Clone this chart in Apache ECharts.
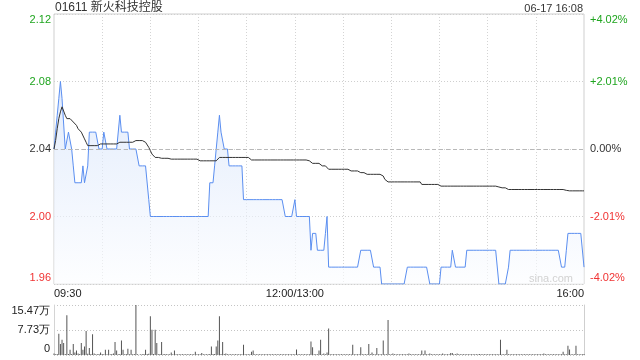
<!DOCTYPE html>
<html><head><meta charset="utf-8">
<script src="https://cdn.jsdelivr.net/npm/echarts@6/dist/echarts.min.js"></script>
<style>html,body{margin:0;padding:0;background:#fff}#c{width:640px;height:360px}</style>
</head><body><div id="c"></div>
<script>
const titleText = '01611 新火科技控股';
const dateText = '06-17 16:08';
const watermark = 'sina.com';
const priceTicks = ['1.96', '2.00', '2.04', '2.08', '2.12'];
const pctTicks = ['-4.02%', '-2.01%', '0.00%', '+2.01%', '+4.02%'];
const volTicks = ['0', '7.73万', '15.47万'];
const xTickLabels = { 0: '09:30', 150: '12:00/13:00', 330: '16:00' };
const prevClose = 2.04;

// price per minute (0 = 09:30, 150 = 12:00/13:00, 330 = 16:00)
const priceData = [
  2.04,2.05,2.06,2.07,2.08,2.07,2.07,2.04,2.04,2.05,
  2.05,2.04,2.03,2.02,2.02,2.02,2.02,2.02,2.03,2.02,
  2.02,2.03,2.05,2.05,2.05,2.05,2.05,2.05,2.04,2.04,
  2.04,2.05,2.05,2.04,2.04,2.04,2.04,2.04,2.04,2.04,
  2.04,2.06,2.05,2.05,2.05,2.05,2.05,2.04,2.04,2.04,
  2.04,2.04,2.04,2.03,2.03,2.03,2.03,2.03,2.03,2.01,
  2.00,2.00,2.00,2.00,2.00,2.00,2.00,2.00,2.00,2.00,
  2.00,2.00,2.00,2.00,2.00,2.00,2.00,2.00,2.00,2.00,
  2.00,2.00,2.00,2.00,2.00,2.00,2.00,2.00,2.00,2.00,
  2.00,2.00,2.00,2.00,2.00,2.00,2.00,2.02,2.02,2.02,
  2.03,2.04,2.05,2.06,2.05,2.05,2.04,2.04,2.04,2.03,
  2.03,2.03,2.03,2.03,2.03,2.03,2.03,2.03,2.01,2.01,
  2.01,2.01,2.01,2.01,2.01,2.01,2.01,2.01,2.01,2.01,
  2.01,2.01,2.01,2.01,2.01,2.01,2.01,2.01,2.01,2.01,
  2.01,2.01,2.01,2.01,2.00,2.00,2.00,2.00,2.00,2.00,
  2.01,2.00,2.00,2.00,2.00,2.00,2.00,2.00,2.00,2.00,
  1.98,1.99,1.99,1.99,1.98,1.98,1.98,1.98,1.98,1.99,
  2.00,1.97,1.97,1.97,1.97,1.97,1.97,1.97,1.97,1.97,
  1.97,1.97,1.97,1.97,1.97,1.97,1.97,1.97,1.97,1.97,
  1.97,1.98,1.98,1.98,1.98,1.98,1.98,1.98,1.98,1.97,
  1.97,1.97,1.97,1.97,1.96,1.96,1.96,1.96,1.96,1.96,
  1.96,1.96,1.96,1.96,1.96,1.96,1.96,1.96,1.96,1.96,
  1.97,1.97,1.97,1.97,1.97,1.97,1.97,1.97,1.97,1.97,
  1.97,1.97,1.97,1.97,1.96,1.96,1.96,1.96,1.96,1.96,
  1.96,1.97,1.97,1.97,1.97,1.97,1.97,1.97,1.98,1.98,
  1.97,1.97,1.97,1.97,1.97,1.97,1.97,1.98,1.98,1.98,
  1.98,1.98,1.98,1.98,1.98,1.98,1.98,1.98,1.98,1.98,
  1.98,1.98,1.98,1.98,1.98,1.98,1.98,1.96,1.96,1.96,
  1.96,1.96,1.96,1.97,1.98,1.98,1.98,1.98,1.98,1.98,
  1.98,1.98,1.98,1.98,1.98,1.98,1.98,1.98,1.98,1.98,
  1.98,1.98,1.98,1.98,1.98,1.98,1.98,1.98,1.98,1.98,
  1.98,1.98,1.98,1.98,1.98,1.98,1.97,1.97,1.97,1.98,
  1.99,1.99,1.99,1.99,1.99,1.99,1.99,1.99,1.99,1.99,
  1.97
];

// average price per minute
const avgData = [
  2.040,2.045,2.052,2.058,2.062,2.065,2.065,2.060,2.058,2.058,
  2.058,2.057,2.056,2.055,2.054,2.052,2.051,2.050,2.049,2.046,
  2.044,2.042,2.042,2.042,2.042,2.042,2.042,2.042,2.042,2.043,
  2.043,2.043,2.043,2.043,2.043,2.043,2.043,2.043,2.043,2.043,
  2.043,2.044,2.044,2.044,2.044,2.044,2.044,2.044,2.044,2.044,
  2.045,2.045,2.045,2.045,2.045,2.045,2.045,2.044,2.043,2.041,
  2.039,2.037,2.036,2.035,2.035,2.035,2.0345,2.0345,2.0345,2.0345,
  2.0345,2.0345,2.0345,2.034,2.034,2.034,2.034,2.034,2.034,2.034,
  2.034,2.034,2.034,2.034,2.034,2.034,2.034,2.034,2.034,2.034,
  2.034,2.033,2.033,2.033,2.033,2.033,2.033,2.033,2.033,2.033,
  2.033,2.033,2.034,2.035,2.035,2.035,2.035,2.035,2.035,2.035,
  2.035,2.035,2.035,2.035,2.035,2.035,2.035,2.035,2.035,2.035,
  2.035,2.035,2.035,2.0335,2.0335,2.0335,2.0335,2.0335,2.0335,2.0335,
  2.0335,2.0335,2.0335,2.0335,2.0335,2.0335,2.0335,2.0335,2.0335,2.0335,
  2.0335,2.0335,2.0335,2.0335,2.0335,2.0335,2.0335,2.0335,2.0335,2.0335,
  2.0335,2.0335,2.0335,2.0335,2.0335,2.0335,2.0335,2.0335,2.0335,2.033,
  2.033,2.0315,2.0315,2.0315,2.0315,2.0315,2.0315,2.030,2.030,2.030,
  2.030,2.028,2.028,2.028,2.028,2.028,2.028,2.028,2.028,2.028,
  2.028,2.028,2.028,2.028,2.027,2.027,2.027,2.027,2.027,2.027,
  2.027,2.026,2.026,2.026,2.026,2.025,2.025,2.025,2.025,2.025,
  2.025,2.025,2.025,2.025,2.025,2.024,2.022,2.021,2.0205,2.0205,
  2.0205,2.0205,2.0205,2.0205,2.0205,2.0205,2.0205,2.0205,2.0205,2.0205,
  2.0205,2.0205,2.0205,2.0205,2.0205,2.0205,2.0205,2.0205,2.0205,2.019,
  2.019,2.019,2.019,2.019,2.019,2.019,2.019,2.019,2.019,2.019,
  2.019,2.018,2.018,2.018,2.018,2.018,2.018,2.018,2.018,2.018,
  2.018,2.018,2.018,2.018,2.018,2.018,2.018,2.018,2.018,2.018,
  2.018,2.018,2.018,2.018,2.018,2.018,2.018,2.018,2.018,2.018,
  2.018,2.018,2.018,2.018,2.018,2.018,2.0175,2.0175,2.0175,2.017,
  2.017,2.017,2.016,2.016,2.016,2.016,2.016,2.016,2.016,2.016,
  2.016,2.016,2.016,2.016,2.016,2.016,2.016,2.016,2.016,2.016,
  2.016,2.016,2.016,2.016,2.016,2.016,2.016,2.016,2.016,2.016,
  2.016,2.016,2.016,2.016,2.016,2.016,2.016,2.016,2.016,2.0155,
  2.0152,2.0152,2.0152,2.0152,2.0152,2.0152,2.0152,2.0152,2.0152,2.0152,
  2.0152
];

// volume per minute, in 万
const volData = [
  0.5,0.2,0.3,6.6,3.4,4.7,3.7,0.3,12.3,0.3,
  1.6,0.3,3.4,0.8,1.4,0.5,0.3,3.7,1.6,2.6,
  7.4,0.4,2.2,0.3,6.4,0.5,0.2,0.2,0.3,0.8,
  0.3,0.2,1.6,0.2,1.6,0.2,0.3,0.5,4.0,1.4,
  0.2,0.3,4.5,1.6,0.2,0.3,1.9,0.2,1.6,0.2,
  0.3,15.47,0.2,0.1,0.2,0.2,0.3,1.6,0.3,0.4,
  12.0,7.8,0.3,7.8,3.7,0.2,0.3,4.0,0.2,0.3,
  0.2,0.2,0.2,0.8,0.2,1.4,0.2,0.2,0.2,0.2,
  0.2,0.2,0.2,0.2,0.2,0.2,0.2,0.2,1.0,0.2,
  0.2,0.2,0.6,0.2,0.2,0.2,0.2,0.3,2.6,0.3,
  0.3,2.6,4.5,12.0,0.3,4.0,0.3,0.5,0.2,0.2,
  0.2,0.2,0.2,0.2,0.2,0.2,0.2,0.2,3.2,0.2,
  0.2,0.2,0.2,1.0,1.4,0.2,0.2,0.2,0.2,0.2,
  0.2,0.2,0.2,0.2,0.2,0.2,0.2,0.2,0.2,0.2,
  0.2,0.2,0.2,0.2,0.2,0.2,0.2,0.2,0.2,0.2,
  0.2,1.7,0.2,0.2,0.2,0.2,0.2,0.2,0.2,0.2,
  4.2,2.4,0.2,0.2,0.2,1.4,4.7,0.2,0.5,0.2,
  0.8,8.2,0.2,0.2,0.2,0.2,0.2,0.2,0.2,0.2,
  0.2,0.2,0.2,0.2,0.2,0.2,3.2,0.2,0.2,0.2,
  0.2,2.4,0.2,0.2,0.2,0.2,3.4,0.2,0.8,0.2,
  0.2,2.2,0.2,0.2,0.2,4.5,0.2,0.2,10.8,0.2,
  0.2,0.5,0.2,0.2,0.2,0.2,0.2,0.2,0.2,0.2,
  0.2,0.5,0.2,0.2,0.2,0.2,0.2,0.2,0.2,1.4,
  0.2,1.4,0.2,0.2,0.5,0.2,0.2,0.2,0.2,0.2,
  0.2,0.2,0.5,0.2,0.2,0.2,0.2,0.6,0.6,0.2,
  0.2,0.5,0.2,0.2,0.2,0.2,0.2,0.2,0.2,0.2,
  0.2,0.2,0.2,0.2,0.2,0.3,0.2,0.2,0.2,0.2,
  0.2,0.2,0.2,0.2,0.2,0.2,0.2,0.2,4.7,0.2,
  0.2,0.2,1.6,0.2,0.2,0.2,0.2,0.2,0.2,0.2,
  0.2,0.2,0.2,0.2,0.2,0.2,0.2,0.2,0.2,0.2,
  0.2,0.2,0.2,0.2,0.2,0.5,0.2,0.2,0.2,0.2,
  0.2,0.2,0.2,0.2,0.2,0.2,0.2,1.0,0.2,0.2,
  2.9,1.7,0.2,0.2,0.2,2.9,0.2,0.2,0.2,0.2,
  0.3
];

// minute categories
const categories = [];
function hm(t) { const h = Math.floor(t / 60), m = t % 60; return (h < 10 ? '0' : '') + h + ':' + (m < 10 ? '0' : '') + m; }
for (let i = 0; i <= 330; i++) {
  if (i < 150) categories.push(hm(570 + i));
  else if (i === 150) categories.push('12:00/13:00');
  else categories.push(hm(780 + i - 150));
}

const GREEN = '#1fa51f', RED = '#f03333', DARK = '#333';
const FONT = '"Liberation Sans", Arial, sans-serif';
const chart = echarts.init(document.getElementById('c'), null, { renderer: 'canvas' });

function yLabelFmt(list) {
  return function (v) {
    const i = Math.round((v - 1.96) / 0.04);
    const t = list[i];
    const c = i < 2 ? 'r' : (i === 2 ? 'k' : 'g');
    const key = i === 0 ? c + 'b' : (i === 4 ? c + 't' : c);
    return '{' + key + '|' + t + '}';
  };
}
const yRich = {
  g: { color: GREEN }, gt: { color: GREEN, padding: [12, 0, 0, 0] },
  k: { color: DARK },
  r: { color: RED }, rb: { color: RED, padding: [0, 0, 12, 0] }
};

const option = {
  animation: false,
  backgroundColor: '#fff',
  textStyle: { fontFamily: FONT },
  graphic: [
    { type: 'text', left: 55, top: 2, style: { text: titleText, fill: '#333', font: '12px "Liberation Sans", "Noto Sans CJK SC", sans-serif' } },
    { type: 'text', right: 57, top: 3, style: { text: dateText, fill: '#333', font: '11px "Liberation Sans", Arial, sans-serif' } },
    { type: 'text', right: 67, top: 273, z: 10, style: { text: watermark, fill: '#d2d2d2', font: '11px "Liberation Sans", Arial, sans-serif' } }
  ],
  grid: [
    { left: 54, top: 14, width: 530, height: 270, show: true, borderColor: '#cfcfcf', borderWidth: 1 },
    { left: 54, top: 305, width: 530, height: 50 }
  ],
  xAxis: [
    {
      type: 'category', gridIndex: 0, data: categories, boundaryGap: false,
      axisLine: { show: false }, axisTick: { show: false },
      axisLabel: {
        interval: function (i) { return xTickLabels[i] !== undefined; },
        formatter: function (v, i) { return xTickLabels[i] || ''; },
        color: '#222', fontSize: 11, margin: 4, fontFamily: FONT,
        alignMinLabel: 'left', alignMaxLabel: 'right'
      },
      splitLine: { show: true, interval: function (i) { return i % 30 === 0 && i !== 0 && i !== 330; }, lineStyle: { color: '#d4d4d4', type: [1, 2], width: 1 } }
    },
    {
      type: 'category', gridIndex: 1, data: categories, boundaryGap: false,
      axisLine: { show: false }, axisTick: { show: false }, axisLabel: { show: false }, splitLine: { show: false }
    }
  ],
  yAxis: [
    {
      type: 'value', gridIndex: 0, min: 1.96, max: 2.12, interval: 0.04, position: 'left',
      axisLine: { show: false }, axisTick: { show: false },
      axisLabel: { formatter: yLabelFmt(priceTicks), rich: yRich, fontSize: 11, margin: 3, fontFamily: FONT },
      splitLine: { show: true, lineStyle: { color: '#cfcfcf', type: [1, 2] } }
    },
    {
      type: 'value', gridIndex: 0, min: 1.96, max: 2.12, interval: 0.04, position: 'right',
      axisLine: { show: false }, axisTick: { show: false },
      axisLabel: { formatter: yLabelFmt(pctTicks), rich: yRich, fontSize: 11, margin: 6, fontFamily: FONT },
      splitLine: { show: false }
    },
    {
      type: 'value', gridIndex: 1, min: 0, max: 15.47, interval: 7.735, position: 'left',
      axisLine: { show: true, lineStyle: { color: '#d4d4d4' } }, axisTick: { show: false },
      axisLabel: {
        formatter: function (v) {
          const i = Math.round(v / 7.735);
          return i === 0 ? '{b|' + volTicks[0] + '}' : (i === 2 ? '{t|' + volTicks[2] + '}' : volTicks[i]);
        },
        rich: { t: { color: '#222', padding: [12, 0, 0, 0] }, b: { color: '#222', padding: [0, 0, 12, 0] } },
        color: '#222', fontSize: 11, margin: 4, fontFamily: FONT
      },
      splitLine: { show: true, lineStyle: { color: '#c4c4c4', type: [1, 2] } }
    },
    {
      type: 'value', gridIndex: 1, min: 0, max: 15.47, interval: 7.735, position: 'right',
      axisLine: { show: true, lineStyle: { color: '#cfcfcf' } }, axisTick: { show: false },
      axisLabel: { show: false }, splitLine: { show: false }
    }
  ],
  series: [
    {
      name: 'price', type: 'line', xAxisIndex: 0, yAxisIndex: 0, data: priceData,
      symbol: 'none', smooth: false,
      lineStyle: { color: '#5a8ef0', width: 1 },
      areaStyle: {
        origin: 'start',
        color: new echarts.graphic.LinearGradient(0, 0, 0, 1, [
          { offset: 0, color: 'rgba(210,225,250,0.9)' },
          { offset: 1, color: 'rgba(252,253,255,0.9)' }
        ])
      },
      markLine: {
        silent: true, symbol: 'none', label: { show: false },
        lineStyle: { color: '#b8b8b8', type: [4, 3], width: 1 },
        data: [{ yAxis: prevClose }]
      },
      z: 2
    },
    {
      name: 'avg', type: 'line', xAxisIndex: 0, yAxisIndex: 0, data: avgData,
      symbol: 'none', lineStyle: { color: '#333', width: 1 }, z: 3
    },
    {
      name: 'vol', type: 'bar', xAxisIndex: 1, yAxisIndex: 2, data: volData,
      barWidth: 1, itemStyle: { color: '#555' }
    }
  ]
};
chart.setOption(option);
</script>
</body></html>
